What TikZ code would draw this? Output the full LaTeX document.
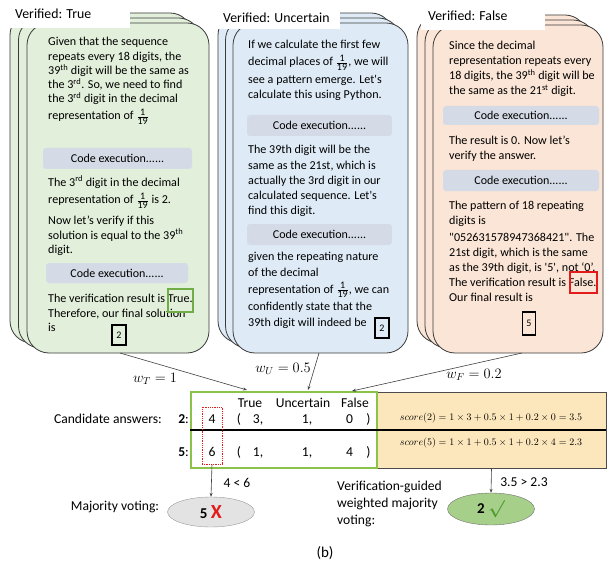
\documentclass[tikz,border=0pt]{standalone}
\usepackage{fontspec}
\setmainfont{Carlito}
\newfontfamily\rawfont{Carlito}
\usetikzlibrary{arrows.meta,shapes.geometric}

\definecolor{gfill}{HTML}{E2EFDA}
\definecolor{bfill}{HTML}{DEEBF7}
\definecolor{ofill}{HTML}{FBE5D6}
\definecolor{codebar}{HTML}{D5DBE6}
\definecolor{cardline}{HTML}{3A3A3A}
\definecolor{tgreen}{HTML}{70AD47}
\definecolor{tblgreen}{HTML}{8BC34A}
\definecolor{scorefill}{HTML}{FCE6BC}
\definecolor{xred}{HTML}{E41B1B}
\definecolor{ellgrey}{HTML}{E3E3E3}
\definecolor{ellgreen}{HTML}{A6CF89}
\definecolor{chkgreen}{HTML}{4E9A2F}

\newcommand\sups[1]{\textsuperscript{#1}}
% one over nineteen, with text digits
\newcommand\nineteenth{\ensuremath{\frac{\mbox{\fontsize{10}{10}\selectfont 1}}{\mbox{\fontsize{10}{10}\selectfont 19}}}}

\tikzset{
  card/.style={draw=cardline, line width=0.8pt, rounded corners=22pt, inner sep=0pt},
  gcard/.style={card, fill=gfill, minimum width=182pt, minimum height=330pt},
  bcard/.style={card, fill=bfill, minimum width=175pt, minimum height=330pt},
  ocard/.style={card, fill=ofill, minimum width=170pt, minimum height=328pt},
  txt/.style={anchor=base west, inner sep=0pt, font=\fontsize{12.1}{14}\selectfont},
  labtxt/.style={anchor=base west, inner sep=0pt, font=\fontsize{13.8}{15}\selectfont},
  codebox/.style={fill=codebar, rounded corners=3pt, inner sep=0pt, font=\fontsize{12}{14}\selectfont},
  ansbox/.style={draw=black, line width=1.2pt, inner sep=0pt, font=\fontsize{10}{12}\selectfont},
  cell/.style={anchor=base, inner sep=0pt, font=\fontsize{13.6}{15}\selectfont},
  wlab/.style={inner sep=0pt, font=\fontsize{14.5}{16}\selectfont},
  link/.style={draw=black!75, line width=0.6pt, -{Stealth[length=4pt,width=3pt]}},
}

\begin{document}
\begin{tikzpicture}[x=1pt,y=-1pt]
\useasboundingbox (0,0) rectangle (607,564);

% ---------------- stack of "True" solutions ----------------
\node[gcard] (gB2) at (101,178) {};
\node[gcard] (gB1) at (109.5,183) {};
\node[gcard] (gF) at (118,188) {};
\fill[white] (0,0) rectangle (130,28);
\node[labtxt] (gLab) at (15,19) {Verified: True};

\node[txt] (g1) at (48,46) {Given that the sequence};
\node[txt] (g2) at (48,61) {repeats every 18 digits, the};
\node[txt] (g3) at (48,75) {39\sups{th} digit will be the same as};
\node[txt] (g4) at (48,89) {the 3\sups{rd}. So, we need to find};
\node[txt] (g5) at (48,103) {the 3\sups{rd} digit in the decimal};
\node[txt] (g6) at (48,120) {representation of \nineteenth};
\node[codebox, minimum width=149pt, minimum height=21pt] (gX1) at (117.5,158.5) {Code execution......};
\node[txt] (g7) at (48,186) {The 3\sups{rd} digit in the decimal};
\node[txt] (g8) at (48,204) {representation of \nineteenth{} is 2.};
\node[txt] (g9) at (48,224) {Now let’s verify if this};
\node[txt] (g10) at (48,239) {solution is equal to the 39\sups{th}};
\node[txt] (g11) at (48,253) {digit.};
\node[codebox, minimum width=142pt, minimum height=20pt] (gX2) at (117,273) {Code execution......};
\node[txt] (g12) at (48,302) {The verification result is True.};
\node[txt] (g13) at (48,317) {Therefore, our final solution};
\node[txt] (g14) at (48,331) {is};
\node[draw=tgreen, line width=1.2pt, minimum width=25pt, minimum height=23pt, inner sep=0pt] (gMark) at (180.5,300.5) {};
\node[ansbox, minimum width=14pt, minimum height=20pt] (gAns) at (119,335) {2};

% ---------------- stack of "Uncertain" solutions ----------------
\node[bcard] (bB2) at (305.5,178) {};
\node[bcard] (bB1) at (313,183) {};
\node[bcard] (bF) at (320.5,188) {};
\fill[white] (216,0) rectangle (340,29);
\node[labtxt] (bLab) at (223,23) {Verified: Uncertain};

\node[txt] (b1) at (248,49) {If we calculate the first few};
\node[txt] (b2) at (248,66) {decimal places of \nineteenth, we will};
\node[txt] (b3) at (248,84) {see a pattern emerge. {\rawfont Let's}};
\node[txt] (b4) at (248,99) {calculate this using Python.};
\node[codebox, minimum width=145pt, minimum height=21pt] (bX1) at (319.5,125.5) {Code execution......};
\node[txt] (b5) at (248,154) {The 39th digit will be the};
\node[txt] (b6) at (248,170) {same as the 21st, which is};
\node[txt] (b7) at (248,184) {actually the 3rd digit in our};
\node[txt] (b8) at (248,199) {calculated sequence. {\rawfont Let's}};
\node[txt] (b9) at (248,214) {find this digit.};
\node[codebox, minimum width=145pt, minimum height=21pt] (bX2) at (319.5,234.5) {Code execution......};
\node[txt] (b10) at (248,260) {given the repeating nature};
\node[txt] (b11) at (248,276) {of the decimal};
\node[txt] (b12) at (248,293) {representation of \nineteenth, we can};
\node[txt] (b13) at (248,310) {confidently state that the};
\node[txt] (b14) at (248,326) {39th digit will indeed be};
\node[ansbox, minimum width=14pt, minimum height=20pt] (bAns) at (382,328) {2};

% ---------------- stack of "False" solutions ----------------
\node[ocard] (oB2) at (502,179) {};
\node[ocard] (oB1) at (510,184) {};
\node[ocard] (oF) at (518,189) {};
\fill[white] (421,0) rectangle (545,30);
\node[labtxt] (oLab) at (428,21) {Verified: False};

\node[txt] (o1) at (449,50) {Since the decimal};
\node[txt] (o2) at (449,65) {representation repeats every};
\node[txt] (o3) at (449,80) {18 digits, the 39\sups{th} digit will be};
\node[txt] (o4) at (449,95) {the same as the 21\sups{st} digit.};
\node[codebox, minimum width=156pt, minimum height=19pt] (oX1) at (521,115.5) {Code execution......};
\node[txt] (o5) at (449,145) {The result is 0. Now let’s};
\node[txt] (o6) at (449,160) {verify the answer.};
\node[codebox, minimum width=156pt, minimum height=21pt] (oX2) at (521,180.5) {Code execution......};
\node[txt] (o7) at (449,209) {The pattern of 18 repeating};
\node[txt] (o8) at (449,224) {digits is};
\node[txt] (o9) at (449,241) {{\rawfont "052631578947368421"}. The};
\node[txt] (o10) at (449,256) {21st digit, which is the same};
\node[txt] (o11) at (449,271) {as the 39th digit, is {\rawfont '5'}, not ‘0’.};
\node[txt] (o12) at (449,286) {The verification result is False.};
\node[txt] (o13) at (449,301) {Our final result is};
\node[draw=xred, line width=1.2pt, minimum width=27pt, minimum height=21pt, inner sep=0pt] (oMark) at (583.5,282.5) {};
\node[ansbox, minimum width=13pt, minimum height=23pt] (oAns) at (529,323.5) {5};

% ---------------- vote table ----------------
\node[draw=black!70, line width=0.8pt, fill=scorefill, minimum width=229pt, minimum height=76pt, inner sep=0pt] (score) at (491.5,430) {};
\node[draw=tblgreen, line width=2pt, minimum width=186pt, minimum height=76pt, inner sep=0pt] (tbl) at (284,430) {};
\draw[line width=1.5pt] (tbl.west) -- (score.east);

\node[cell] (hT) at (250,407) {True};
\node[cell] (hU) at (303,407) {Uncertain};
\node[cell] (hF) at (355,407) {False};

\node[cell, anchor=base east] (cand) at (162,423) {Candidate answers:};
\node[cell, anchor=base east] (k2) at (189,423) {\textbf{2}:};
\node[cell, anchor=base east] (k5) at (189,456) {\textbf{5}:};
\node[cell] (n2) at (212,423) {4};
\node[cell] (n5) at (212,456) {6};
\node[cell] (p2a) at (239,423) {(};
\node[cell] (p2b) at (258,423) {3,};
\node[cell] (p2c) at (307,423) {1,};
\node[cell] (p2d) at (349.5,423) {0};
\node[cell] (p2e) at (368.5,423) {)};
\node[cell] (p5a) at (239,456) {(};
\node[cell] (p5b) at (258,456) {1,};
\node[cell] (p5c) at (307,456) {1,};
\node[cell] (p5d) at (349.5,456) {4};
\node[cell] (p5e) at (368.5,456) {)};
\node[draw=xred, densely dotted, line width=0.8pt, minimum width=20pt, minimum height=57pt, inner sep=0pt] (cnt) at (212,435.5) {};

\node[inner sep=0pt, font=\fontsize{10.2}{12}\selectfont] (s2) at (491,418) {$score(2) = 1\times 3 + 0.5\times 1 + 0.2\times 0 = 3.5$};
\node[inner sep=0pt, font=\fontsize{10.2}{12}\selectfont] (s5) at (491,443) {$score(5) = 1\times 1 + 0.5\times 1 + 0.2\times 4 = 2.3$};

% ---------------- weights ----------------
\coordinate (gOut) at (120,353);
\coordinate (bOut) at (319,353);
\coordinate (oOut) at (522,353);
\coordinate (tIn) at (247,390);
\coordinate (uIn) at (308,390);
\coordinate (fIn) at (352,391);
\draw[link] (gOut) -- (tIn);
\draw[link] (bOut) -- (uIn);
\draw[link] (oOut) -- (fIn);
\node[wlab] (wT) at (155,379) {$w_T = 1$};
\node[wlab] (wU) at (283,369) {$w_U = 0.5$};
\node[wlab] (wF) at (474,375) {$w_F = 0.2$};

% ---------------- outcomes ----------------
\node[ellipse, draw=black!40, fill=ellgrey, minimum width=87pt, minimum height=30pt, inner sep=0pt] (mv) at (211,512)
  {\fontsize{15}{16}\selectfont\textbf{5} {\color{xred}\fontsize{20}{20}\selectfont\textbf{X}}};
\node[ellipse, draw=black!55, fill=ellgreen, minimum width=87pt, minimum height=32pt, inner sep=0pt] (wv) at (491,509)
  {\fontsize{15}{16}\selectfont\textbf{2} {\color{chkgreen}\fontsize{16}{16}\selectfont\boldmath$\surd$}};
\draw[link] (cnt.south) -- (mv.north);
\draw[link] (score.south) -- (wv.north);
\node[cell] (lt) at (237,487) {4 < 6};
\node[cell] (gt) at (524,486) {3.5 > 2.3};
\node[cell] (mvLab) at (115,510) {Majority voting:};
\node[anchor=north west, inner sep=0pt, align=left, font=\fontsize{13.6}{17}\selectfont] (wvLab) at (337,481)
  {Verification-guided\\weighted majority\\voting:};

\node[inner sep=0pt, font=\fontsize{15}{17}\selectfont] (cap) at (325,553) {(b)};
\end{tikzpicture}
\end{document}
